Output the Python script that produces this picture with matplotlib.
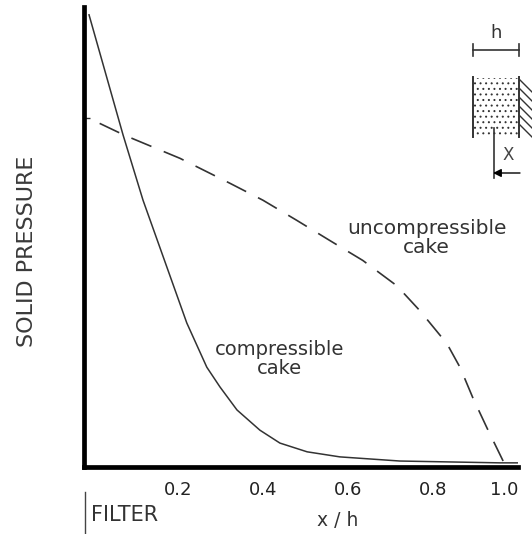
import numpy as np
import matplotlib
matplotlib.use("Agg")
import matplotlib.pyplot as plt
from matplotlib.patches import Rectangle

# curves (x / h, relative solid pressure)
comp_x = [-0.009, 0.071, 0.118, 0.221, 0.268, 0.299, 0.339, 0.393, 0.440,
          0.504, 0.581, 0.722, 0.958, 1.0]
comp_y = [0.983, 0.722, 0.580, 0.313, 0.217, 0.174, 0.124, 0.080, 0.052,
          0.033, 0.022, 0.013, 0.009, 0.009]

uncomp_x = [0.016, 0.075, 0.205, 0.322, 0.400, 0.480, 0.558, 0.635, 0.715,
            0.769, 0.833, 0.864, 0.894, 0.927, 0.965]
uncomp_y = [0.747, 0.721, 0.671, 0.617, 0.580, 0.536, 0.492, 0.449, 0.394,
            0.340, 0.268, 0.216, 0.150, 0.085, 0.013]

xticks = [0.2, 0.4, 0.6, 0.8, 1.0]
xtick_labels = ["0.2", "0.4", "0.6", "0.8", "1.0"]
ytick = [0.758]

line_col = "#333333"
text_col = "#333333"

plt.rcParams["hatch.linewidth"] = 0.7

fig = plt.figure(figsize=(5.32, 5.34), dpi=100)
ax = fig.add_axes([83.5 / 532, 67 / 534, (518 - 83.5) / 532, 460 / 534])

ax.plot(comp_x, comp_y, color=line_col, lw=1.1, solid_joinstyle="round")
ax.plot(uncomp_x, uncomp_y, color=line_col, lw=1.2, linestyle=(0, (13, 8)))

ax.set_xlim(-0.022, 1.0)
ax.set_ylim(0, 1.0)
for s in ["top", "right"]:
    ax.spines[s].set_visible(False)
for s in ["left", "bottom"]:
    ax.spines[s].set_linewidth(3.4)
    ax.spines[s].set_color("black")
ax.spines["left"].set_capstyle("projecting")

ax.set_xticks(xticks)
ax.set_xticklabels(xtick_labels)
ax.tick_params(axis="x", length=0, pad=10, labelsize=13, labelcolor="#222222")
ax.get_xticklabels()[-1].set_horizontalalignment("right")
ax.set_yticks(ytick)
ax.set_yticklabels([])
ax.tick_params(axis="y", direction="in", length=4, width=1, color="#333333")

ax.text(0.44, 0.235, "compressible\ncake", ha="center", va="center",
        fontsize=14, color=text_col, linespacing=1.0)
ax.text(0.785, 0.497, "uncompressible\ncake", ha="center", va="center",
        fontsize=14.5, color=text_col, linespacing=1.0)

fig.text(27.5 / 532, 1 - 251 / 534, "SOLID PRESSURE", rotation=90,
         ha="center", va="center", fontsize=16, color="#3a3a3a")
fig.text(338 / 532, 1 - 521 / 534, "x / h", ha="center", va="center",
         fontsize=13.5, color=text_col)
fig.text(91 / 532, 1 - 515 / 534, "FILTER", ha="left", va="center",
         fontsize=15, color=text_col)
fig.add_artist(plt.Line2D([85 / 532, 85 / 532], [0, 1 - 492 / 534],
                          transform=fig.transFigure, color="#444444", lw=1))

# small filter-cake sketch, drawn in pixel units of its own axes
ins = fig.add_axes([430 / 532, 1 - 190 / 534, 102 / 532, 170 / 534])
ins.set_xlim(430, 532)
ins.set_ylim(190, 20)
ins.axis("off")
ins.text(496, 33, "h", ha="center", va="center", fontsize=13, color=text_col)
ins.plot([473, 519], [50, 50], color=line_col, lw=1.2)
ins.plot([473, 473], [44, 56], color=line_col, lw=1.2)
ins.plot([519, 519], [44, 56], color=line_col, lw=1.2)
ins.add_patch(Rectangle((474, 78), 44, 58, fill=False, hatch="...",
                        edgecolor="#333333", lw=0))
ins.plot([472.5, 472.5], [77, 137], color=line_col, lw=1.4)
ins.plot([519, 519], [77, 137], color=line_col, lw=1.4)
for yy in np.arange(80, 132, 9):
    ins.plot([520, 532], [yy, yy + 12], color=line_col, lw=1.0)
ins.plot([494, 494], [128, 178], color=line_col, lw=1.2)
ins.text(508, 155, "X", ha="center", va="center", fontsize=12,
         color="#444444")
ins.annotate("", xy=(493, 173), xytext=(520, 173),
             arrowprops=dict(arrowstyle="-|>", color="black", lw=1.0,
                             mutation_scale=12, shrinkA=0, shrinkB=0))

fig.savefig("out.png", dpi=100)
